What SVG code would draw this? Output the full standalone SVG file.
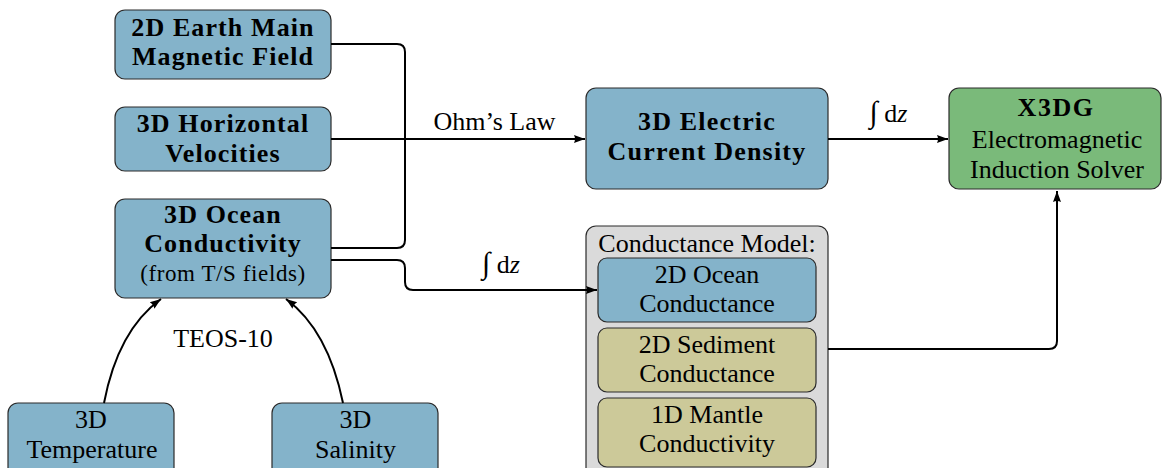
<svg xmlns="http://www.w3.org/2000/svg" width="1164" height="468" viewBox="0 0 1164 468" font-family="Liberation Serif">
<style>
.blue{fill:#84b3ca;stroke:#2b2b2b;stroke-width:1.2}
.green{fill:#7aba7a;stroke:#2b2b2b;stroke-width:1.2}
.olive{fill:#ccc999;stroke:#2b2b2b;stroke-width:1.2}
.gray{fill:#dadada;stroke:#2b2b2b;stroke-width:1.2}
.c{fill:none;stroke:#000;stroke-width:2}
</style>
<defs>
<marker id="ah" markerUnits="userSpaceOnUse" markerWidth="14" markerHeight="12" refX="11" refY="5" orient="auto" viewBox="0 0 14 10">
<path d="M0,1 L11,5 L0,9 Q2,5 0,1 z" fill="#000"/>
</marker>
</defs>
<g font-family="Liberation Serif" font-size="26" fill="#000" text-anchor="middle">
<g id="n-field">
<rect class="blue" x="115" y="10" width="216" height="69" rx="10"/>
<text x="223" y="36" font-weight="bold" letter-spacing="1.1">2D Earth Main</text>
<text x="223" y="65" font-weight="bold" letter-spacing="1.1">Magnetic Field</text>
</g>
<g id="n-velocities">
<rect class="blue" x="115" y="107" width="216" height="64" rx="10"/>
<text x="223" y="132" font-weight="bold" letter-spacing="1.1">3D Horizontal</text>
<text x="223" y="162" font-weight="bold" letter-spacing="1.1">Velocities</text>
</g>
<g id="n-conductivity">
<rect class="blue" x="115" y="199" width="216" height="99" rx="10"/>
<text x="223" y="223" font-weight="bold" letter-spacing="1.1">3D Ocean</text>
<text x="223" y="252" font-weight="bold" letter-spacing="1.1">Conductivity</text>
<text x="223" y="281" font-size="23" letter-spacing="0.6">(from T/S fields)</text>
</g>
<g id="n-current">
<rect class="blue" x="586" y="88" width="242" height="101" rx="10"/>
<text x="707" y="130" font-weight="bold" letter-spacing="1.2">3D Electric</text>
<text x="707" y="160" font-weight="bold" letter-spacing="1.2">Current Density</text>
</g>
<g id="n-x3dg">
<rect class="green" x="949" y="88" width="212" height="101" rx="10"/>
<text x="1056" y="116" font-weight="bold" letter-spacing="1.5">X3DG</text>
<text x="1057" y="148">Electromagnetic</text>
<text x="1057" y="178">Induction Solver</text>
</g>
<g id="n-conductance-model">
<rect class="gray" x="586" y="226" width="242" height="262" rx="10"/>
<text x="707" y="252">Conductance Model:</text>
<g id="n-ocean-conductance">
<rect class="blue" x="598" y="258" width="218" height="64" rx="9"/>
<text x="707" y="283">2D Ocean</text>
<text x="707" y="312">Conductance</text>
</g>
<g id="n-sediment-conductance">
<rect class="olive" x="598" y="328" width="218" height="64" rx="9"/>
<text x="707" y="353">2D Sediment</text>
<text x="707" y="382">Conductance</text>
</g>
<g id="n-mantle-conductivity">
<rect class="olive" x="598" y="398" width="218" height="69" rx="9"/>
<text x="707" y="423">1D Mantle</text>
<text x="707" y="452">Conductivity</text>
</g>
</g>
<g id="n-temperature">
<rect class="blue" x="8" y="403" width="166" height="80" rx="10"/>
<text x="91" y="428">3D</text>
<text x="92" y="458">Temperature</text>
</g>
<g id="n-salinity">
<rect class="blue" x="272" y="403" width="166" height="80" rx="10"/>
<text x="355.5" y="428">3D</text>
<text x="355.5" y="458">Salinity</text>
</g>
<g id="connectors">
<path class="c" d="M331,44 H397 Q405,44 405,52 V240 Q405,248 397,248 H331"/>
<path class="c" d="M331,139 H585" marker-end="url(#ah)"/>
<path class="c" d="M331,260 H397 Q405,260 405,268 V282 Q405,290 413,290 H597" marker-end="url(#ah)"/>
<path class="c" d="M828,139 H948" marker-end="url(#ah)"/>
<path class="c" d="M828,349 H1049 Q1057,349 1057,341 V191" marker-end="url(#ah)"/>
<path class="c" d="M104,403 Q118,330 161,299" marker-end="url(#ah)"/>
<path class="c" d="M343,403 Q328,330 286,299" marker-end="url(#ah)"/>
<text x="494.5" y="130">Ohm’s Law</text>
<text x="888.5" y="122"><tspan font-size="30">∫</tspan> d<tspan font-style="italic">z</tspan></text>
<text x="501" y="273"><tspan font-size="30">∫</tspan> d<tspan font-style="italic">z</tspan></text>
<text x="223" y="347">TEOS-10</text>
</g>
</g>
</svg>
